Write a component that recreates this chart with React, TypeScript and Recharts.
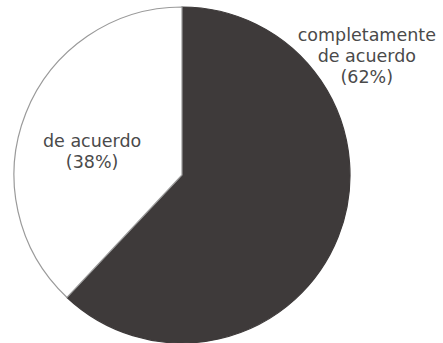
import { PieChart, Pie, Cell } from 'recharts';

const categories = ['completamente\nde acuerdo', 'de acuerdo'];
const values = [62, 38];

const COLORS = ['#3e3a3a', '#ffffff'];
const STROKES = ['#3e3a3a', '#9a9a9a'];

const data = categories.map((name, i) => ({ name, value: values[i] }));

// label anchors relative to the pie, as fractions of the radius
const LABEL_OFFSETS = [
  { fx: 1.1, fy: -0.8 },
  { fx: -0.535, fy: -0.165 },
];

const renderLabel = (props: any) => {
  const { cx, cy, outerRadius, index } = props;
  const off = LABEL_OFFSETS[index];
  const x = cx + outerRadius * off.fx;
  const y = cy + outerRadius * off.fy;
  const lines = [...data[index].name.split('\n'), `(${data[index].value}%)`];
  return (
    <text
      x={x}
      y={y}
      textAnchor="middle"
      fill="#4a4a4a"
      fontSize={17.5}
      fontFamily="DejaVu Sans, sans-serif"
    >
      {lines.map((l, i) => (
        <tspan key={i} x={x} dy={i === 0 ? 0 : 21}>
          {l}
        </tspan>
      ))}
    </text>
  );
};

export default function App() {
  return (
    <div style={{ width: 443, height: 343, background: '#fff' }}>
      <style>{`body{margin:0}`}</style>
      <PieChart width={443} height={343} margin={{ top: 0, right: 0, bottom: 0, left: 0 }}>
        <Pie
          data={data}
          dataKey="value"
          nameKey="name"
          cx={182}
          cy={175}
          outerRadius={168}
          startAngle={90}
          endAngle={-270}
          label={renderLabel}
          labelLine={false}
          isAnimationActive={false}
        >
          {data.map((_, i) => (
            <Cell key={i} fill={COLORS[i]} stroke={STROKES[i]} strokeWidth={1.2} />
          ))}
        </Pie>
      </PieChart>
    </div>
  );
}
